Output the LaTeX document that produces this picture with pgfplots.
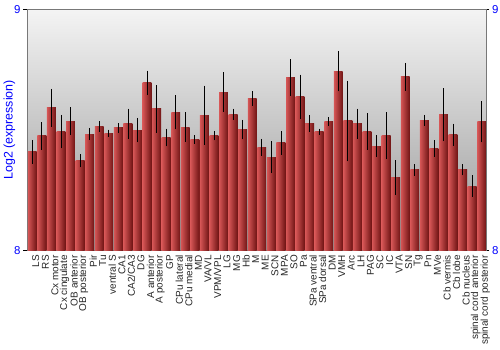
\documentclass[border=0pt]{standalone}
\usepackage{fontspec}
\setmainfont{Liberation Sans}
\usepackage{pgfplots}
\usepackage{pgfplotstable}
\pgfplotsset{compat=1.18}
\definecolor{barL}{RGB}{214,86,86}
\definecolor{barM}{RGB}{180,48,48}
\definecolor{barR}{RGB}{112,20,20}
\definecolor{bgTop}{RGB}{244,244,244}
\definecolor{bgBot}{RGB}{150,150,150}
\definecolor{frame}{RGB}{120,120,120}
\pgfplotstableread{
x y e
0 8.409 0.038
1 8.475 0.046
2 8.591 0.068
3 8.493 0.059
4 8.536 0.047
5 8.372 0.017
6 8.483 0.015
7 8.514 0.011
8 8.486 0.004
9 8.508 0.008
10 8.525 0.052
11 8.499 0.040
12 8.695 0.040
13 8.587 0.087
14 8.468 0.026
15 8.573 0.060
16 8.512 0.050
17 8.461 0.007
18 8.561 0.112
19 8.476 0.009
20 8.657 0.071
21 8.565 0.012
22 8.501 0.030
23 8.630 0.020
24 8.428 0.024
25 8.387 0.055
26 8.446 0.038
27 8.717 0.065
28 8.637 0.081
29 8.526 0.023
30 8.492 0.002
31 8.534 0.007
32 8.744 0.073
33 8.537 0.157
34 8.525 0.052
35 8.493 0.065
36 8.432 0.034
37 8.476 0.086
38 8.302 0.062
39 8.720 0.047
40 8.334 0.013
41 8.540 0.011
42 8.423 0.023
43 8.563 0.099
44 8.479 0.036
45 8.334 0.012
46 8.267 0.034
47 8.533 0.074
}\datatable
\begin{document}
\begin{tikzpicture}
\useasboundingbox (-27.5bp,-99.5bp) rectangle (472.5bp,250.5bp);
\begin{axis}[
  at={(0,0)}, anchor=south west,
  scale only axis, width=459bp, height=241.2bp,
  xmin=-0.5, xmax=47.5, ymin=8, ymax=9,
  axis background/.style={top color=bgTop, bottom color=bgBot},
  axis line style={frame},
  ytick={8,9}, ytick pos=left, tick align=outside,
  major tick length=4.5bp,
  y tick style={black, line width=0.6bp},
  /pgf/number format/assume math mode=true,
  yticklabel style={blue, font=\fontsize{11.5}{12}\selectfont, xshift=1bp},
  xtick={0,...,47},
  major x tick style={draw=none},
  xticklabels={LS,RS,Cx motor,Cx cingulate,OB anterior,OB posterior,Pir,Tu,ventral S,CA1,CA2/CA3,DG,A anterior,A posterior,GP,CPu lateral,CPu medial,MD,VA/VL,VPM/VPL,LG,MG,Hb,M,ME,SCN,MPA,SO,Pa,SPa ventral,SPa dorsal,DM,VMH,Arc,LH,PAG,SC,IC,VTA,SN,Tg,Pn,MVe,Cb vermis,Cb lobe,Cb nucleus,spinal cord anterior,spinal cord posterior},
  xticklabel style={rotate=90, anchor=east, font=\fontsize{10}{10}\selectfont, text=black!85, inner sep=0pt, xshift=0bp, yshift=-3.5bp},
  ylabel={Log2 (expression)},
  every axis y label/.style={at={(rel axis cs:0,0.5)}, xshift=-18bp, rotate=90, anchor=center, blue, font=\fontsize{12.5}{13}\selectfont},
]
\pgfplotsinvokeforeach{0,...,47}{
\addplot[ybar, bar shift=0pt, bar width=0.93, draw=none,
  left color=barL, middle color=barM, right color=barR,
  restrict expr to domain={\coordindex}{#1:#1},
  error bars/.cd, y dir=both, y explicit,
  error bar style={black, line width=0.8bp},
  error mark options={black, line width=0.8bp, mark size=2.6bp}]
  table[x=x, y=y, y error=e] {\datatable};
}
\end{axis}
\begin{axis}[
  at={(0,0)}, anchor=south west,
  scale only axis, width=459bp, height=241.2bp,
  xmin=-0.5, xmax=47.5, ymin=8, ymax=9,
  axis x line=none, axis y line*=right,
  axis line style={frame},
  ytick={8,9}, tick align=outside,
  major tick length=3bp,
  y tick style={black, line width=0.6bp},
  /pgf/number format/assume math mode=true,
  yticklabel style={blue, font=\fontsize{11.5}{12}\selectfont, xshift=-1bp},
]
\addplot[draw=none] coordinates {(0,8.5)};
\end{axis}
\end{tikzpicture}
\end{document}
